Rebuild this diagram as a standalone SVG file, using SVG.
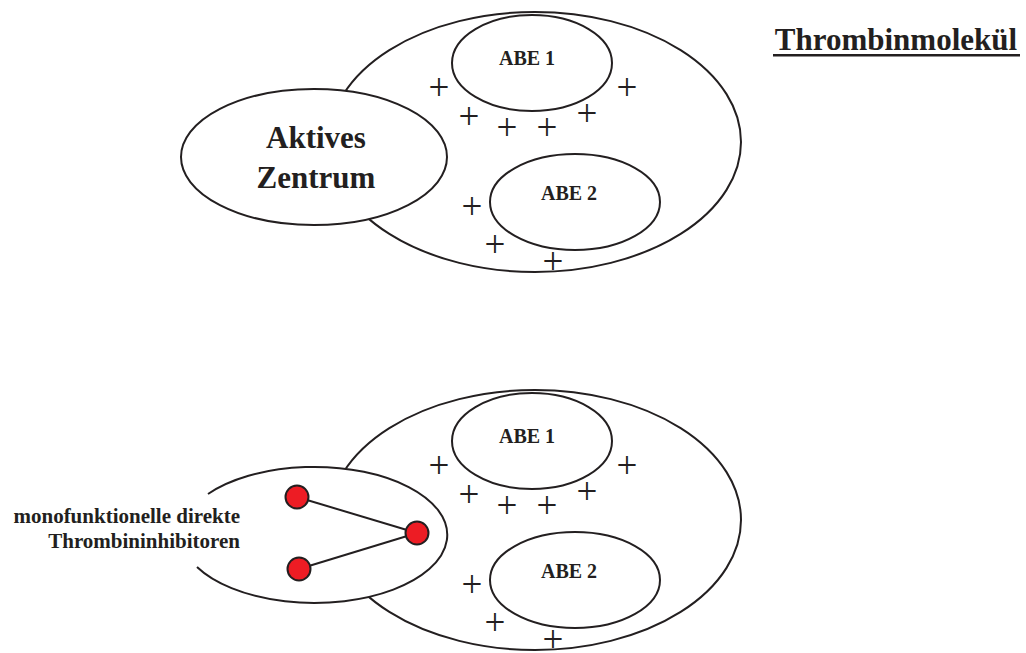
<svg xmlns="http://www.w3.org/2000/svg" width="1026" height="653" viewBox="0 0 1026 653">
  <style>
    .shape { fill: #ffffff; stroke: #231f20; stroke-width: 2; }
    .line { fill: none; stroke: #231f20; stroke-width: 2; }
    .atom { fill: #ed1c24; stroke: #231f20; stroke-width: 2; }
    .lbl { font-family: "Liberation Serif", "Times New Roman", serif; font-weight: bold; fill: #231f20; text-anchor: middle; }
    .plus { font-family: "Liberation Serif", "Times New Roman", serif; font-size: 37px; fill: #231f20; text-anchor: middle; }
    .abe { font-size: 20px; }
  </style>
  <defs>
    <!-- thrombin body with its two anion-binding exosites and surface charges -->
    <g id="thrombin">
      <ellipse class="shape" cx="535" cy="142" rx="206" ry="130"/>
      <ellipse class="shape" cx="532" cy="63" rx="80" ry="48"/>
      <ellipse class="shape" cx="575" cy="202" rx="85" ry="48"/>
      <text class="lbl abe" x="527" y="65">ABE 1</text>
      <text class="lbl abe" x="569" y="200">ABE 2</text>
      <g class="plus">
        <text x="439" y="100">+</text>
        <text x="469" y="129">+</text>
        <text x="507" y="140">+</text>
        <text x="547" y="140">+</text>
        <text x="587" y="126">+</text>
        <text x="627" y="100">+</text>
        <text x="472" y="219">+</text>
        <text x="495" y="257">+</text>
        <text x="553" y="274">+</text>
      </g>
    </g>
  </defs>

  <!-- upper panel -->
  <g id="thrombin-top">
    <use href="#thrombin"/>
  </g>
  <g id="aktives-zentrum">
    <ellipse class="shape" cx="314" cy="157" rx="133" ry="68"/>
    <text class="lbl" x="316" y="148" font-size="31">Aktives</text>
    <text class="lbl" x="316" y="188" font-size="31">Zentrum</text>
  </g>
  <g id="title">
    <text class="lbl" x="896" y="50" font-size="31">Thrombinmolekül</text>
    <rect x="773" y="54" width="247" height="2.5" fill="#231f20"/>
  </g>

  <!-- lower panel -->
  <g id="thrombin-bottom">
    <use href="#thrombin" y="378"/>
  </g>
  <g id="inhibitor">
    <ellipse cx="314" cy="535" rx="133" ry="68" fill="#ffffff"/>
    <path class="line" d="M 208 494 A 133 68 0 1 1 197 567"/>
    <text class="lbl" x="240" y="523" font-size="21" style="text-anchor:end">monofunktionelle direkte</text>
    <text class="lbl" x="240" y="548" font-size="21" style="text-anchor:end">Thrombininhibitoren</text>
  </g>
  <g id="connectors">
    <line class="line" x1="297" y1="497" x2="417" y2="533"/>
    <line class="line" x1="299" y1="569" x2="417" y2="533"/>
  </g>
  <g id="atoms">
    <circle class="atom" cx="297" cy="497" r="11.5"/>
    <circle class="atom" cx="417" cy="533" r="11.5"/>
    <circle class="atom" cx="299" cy="569" r="11.5"/>
  </g>
</svg>
